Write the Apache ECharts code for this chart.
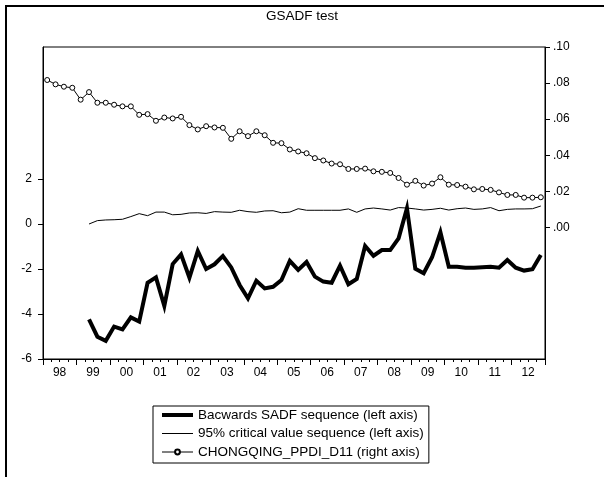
<!DOCTYPE html>
<html>
<head>
<meta charset="utf-8">
<script src="https://cdn.jsdelivr.net/npm/echarts@6/dist/echarts.min.js"></script>
<style>
  html, body { margin: 0; padding: 0; background: #fff; }
  #chart { width: 604px; height: 477px; }
</style>
</head>
<body>
<div id="chart"></div>
<script>
// Quarterly sample 1998Q1 - 2012Q4
const years = ['98','99','00','01','02','03','04','05','06','07','08','09','10','11','12'];
const quarters = ['Q1','Q2','Q3','Q4'];
const periods = years.flatMap(y => quarters.map(q => y + q));

// Backwards SADF statistic (left axis), available from 1999Q2
const bsadf = [
  null, null, null, null, null,
  -4.24, -5.01, -5.19, -4.56, -4.68, -4.15, -4.34, -2.61, -2.37, -3.64,
  -1.78, -1.35, -2.39, -1.20, -2.00, -1.79, -1.42, -1.93, -2.71, -3.30,
  -2.52, -2.86, -2.79, -2.49, -1.64, -2.04, -1.69, -2.34, -2.56, -2.61,
  -1.85, -2.68, -2.44, -0.98, -1.41, -1.16, -1.16, -0.64, 0.70, -1.99,
  -2.19, -1.48, -0.37, -1.90, -1.90, -1.94, -1.94, -1.92, -1.90, -1.94,
  -1.60, -1.94, -2.07, -2.01, -1.38
];

// 95% critical values (left axis)
const cv95 = [
  null, null, null, null, null,
  0.00, 0.15, 0.18, 0.19, 0.21, 0.33, 0.46, 0.37, 0.53, 0.53,
  0.41, 0.43, 0.49, 0.50, 0.47, 0.55, 0.53, 0.52, 0.61, 0.55,
  0.52, 0.58, 0.59, 0.50, 0.53, 0.68, 0.61, 0.61, 0.61, 0.61,
  0.61, 0.67, 0.52, 0.67, 0.71, 0.67, 0.62, 0.73, 0.71, 0.67,
  0.62, 0.65, 0.70, 0.62, 0.68, 0.71, 0.65, 0.67, 0.73, 0.59,
  0.65, 0.67, 0.67, 0.68, 0.80
];

// CHONGQING_PPDI_D11 (right axis)
const ppdi = [
  0.0817, 0.0793, 0.0780, 0.0774, 0.0708, 0.0750, 0.0691, 0.0691, 0.0680, 0.0671,
  0.0671, 0.0624, 0.0628, 0.0591, 0.0609, 0.0604, 0.0613, 0.0567, 0.0543, 0.0561,
  0.0554, 0.0552, 0.0491, 0.0533, 0.0506, 0.0533, 0.0511, 0.0469, 0.0467, 0.0432,
  0.0421, 0.0411, 0.0384, 0.0371, 0.0354, 0.0350, 0.0324, 0.0324, 0.0326, 0.0311,
  0.0308, 0.0302, 0.0274, 0.0237, 0.0258, 0.0232, 0.0243, 0.0278, 0.0237, 0.0235,
  0.0226, 0.0211, 0.0213, 0.0208, 0.0194, 0.0180, 0.0180, 0.0165, 0.0165, 0.0167
];

const leftTicks = [-6, -4, -2, 0, 2];
const rightTicks = [0, 0.02, 0.04, 0.06, 0.08, 0.10];

const seriesNames = [
  'Bacwards SADF sequence (left axis)',
  '95% critical value sequence (left axis)',
  'CHONGQING_PPDI_D11 (right axis)'
];

const FONT = 'Liberation Sans, Arial, sans-serif';
const txt = { color: '#000', fontFamily: FONT, fontSize: 12 };
const bigTxt = { color: '#000', fontFamily: FONT, fontSize: 13.5, fontWeight: 'normal' };

const chart = echarts.init(document.getElementById('chart'), null, { renderer: 'canvas' });

chart.setOption({
  backgroundColor: '#fff',
  animation: false,
  title: {
    text: 'GSADF test',
    left: 'center',
    top: 4,
    textStyle: bigTxt
  },
  graphic: [{
    type: 'rect',
    shape: { x: 6, y: 6, width: 700, height: 600 },
    style: { fill: 'none', stroke: '#000', lineWidth: 2 },
    silent: true
  }],
  legend: {
    orient: 'vertical',
    left: 153,
    top: 406,
    data: [
      { name: seriesNames[0], itemStyle: { opacity: 0 }, lineStyle: { width: 4 } },
      { name: seriesNames[1], itemStyle: { opacity: 0 }, lineStyle: { width: 1 } },
      { name: seriesNames[2], lineStyle: { width: 1 } }
    ],
    itemWidth: 31,
    itemHeight: 6,
    itemGap: 4.5,
    padding: [2, 5, 4, 7],
    borderColor: '#000',
    borderWidth: 1,
    backgroundColor: '#fff',
    textStyle: bigTxt,
    selectedMode: false
  },
  grid: {
    left: 43,
    right: 59,
    top: 47,
    bottom: 118,
    show: true,
    borderColor: '#000',
    borderWidth: 1,
    containLabel: false
  },
  xAxis: [{
    type: 'category',
    data: periods,
    boundaryGap: true,
    position: 'bottom',
    axisLine: { show: true, onZero: false, lineStyle: { color: '#000', width: 1 } },
    axisTick: {
      show: true,
      inside: false,
      interval: (i) => i % 4 === 0,
      length: 6,
      lineStyle: { color: '#000', width: 1 }
    },
    axisLabel: Object.assign({}, txt, {
      interval: (i) => i % 4 === 1,
      formatter: (v) => v.slice(0, 2),
      margin: 8,
      padding: [0, 0, 0, 8]
    }),
    splitLine: { show: false }
  }, {
    type: 'category',
    data: periods,
    boundaryGap: true,
    position: 'bottom',
    axisLine: { show: false, onZero: false },
    axisTick: { show: true, inside: false, interval: 0, length: 3, lineStyle: { color: '#000', width: 1 } },
    axisLabel: { show: false },
    splitLine: { show: false }
  }],
  yAxis: [{
    type: 'value',
    position: 'left',
    min: -6,
    max: 7.867,
    axisLine: { show: true, onZero: false, lineStyle: { color: '#000' } },
    axisTick: { show: true, inside: false, customValues: leftTicks, length: 5, lineStyle: { color: '#000' } },
    axisLabel: Object.assign({}, txt, {
      customValues: leftTicks,
      margin: 11,
      formatter: (v) => String(v)
    }),
    splitLine: { show: false }
  }, {
    type: 'value',
    position: 'right',
    min: -0.07294,
    max: 0.10,
    axisLine: { show: true, onZero: false, lineStyle: { color: '#000' } },
    axisTick: { show: true, inside: false, customValues: rightTicks, length: 5, lineStyle: { color: '#000' } },
    axisLabel: Object.assign({}, txt, {
      customValues: rightTicks,
      margin: 8,
      formatter: (v) => v.toFixed(2).replace(/^0/, '')
    }),
    splitLine: { show: false }
  }],
  series: [{
    name: seriesNames[0],
    type: 'line',
    xAxisIndex: 0,
    yAxisIndex: 0,
    data: bsadf,
    showSymbol: false,
    symbol: 'none',
    lineStyle: { color: '#000', width: 4, join: 'miter' },
    itemStyle: { color: '#000' },
    connectNulls: false
  }, {
    name: seriesNames[1],
    type: 'line',
    xAxisIndex: 0,
    yAxisIndex: 0,
    data: cv95,
    showSymbol: false,
    symbol: 'none',
    lineStyle: { color: '#000', width: 1 },
    itemStyle: { color: '#000' }
  }, {
    name: seriesNames[2],
    type: 'line',
    xAxisIndex: 0,
    yAxisIndex: 1,
    data: ppdi,
    symbol: 'circle',
    symbolSize: 5,
    showSymbol: true,
    lineStyle: { color: '#000', width: 1 },
    itemStyle: { color: '#fff', borderColor: '#000', borderWidth: 1 }
  }]
});
</script>
</body>
</html>
